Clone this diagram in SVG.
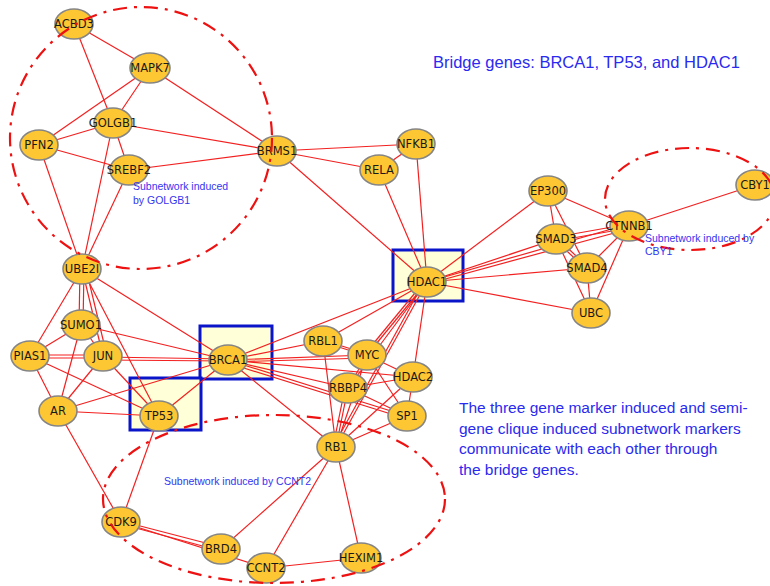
<svg xmlns="http://www.w3.org/2000/svg" width="770" height="586" viewBox="0 0 770 586">
<style>
.e{stroke:#f32020;stroke-width:1.2;fill:none}
.n ellipse{fill:#fdc633;stroke:#858585;stroke-width:1.6}
.n text{font-family:"DejaVu Sans",sans-serif;font-size:11.5px;fill:#1a1a1a;text-anchor:middle}
.box{fill:#ffffd8;stroke:#0a14c8;stroke-width:3}
.sub{fill:none;stroke:#ee1111;stroke-width:2.2;stroke-dasharray:14 7 3 7}
.lbl{font-family:"Liberation Sans",Arial,sans-serif;font-size:10.5px;fill:#3434f0}
.big{font-family:"Liberation Sans",Arial,sans-serif;fill:#2a2af0}
</style>
<rect width="770" height="586" fill="#fff"/>
<g id="boxes">
<rect class="box" x="393" y="250" width="70" height="51"/>
<rect class="box" x="200" y="326" width="72" height="53"/>
<rect class="box" x="130" y="378" width="71" height="52"/>
</g>
<g id="connectors">
<line class="e" x1="74" y1="24" x2="150" y2="68"/>
<line class="e" x1="74" y1="24" x2="113" y2="123"/>
<line class="e" x1="150" y1="68" x2="113" y2="123"/>
<line class="e" x1="150" y1="68" x2="39" y2="145"/>
<line class="e" x1="150" y1="68" x2="277" y2="151"/>
<line class="e" x1="113" y1="123" x2="39" y2="145"/>
<line class="e" x1="113" y1="123" x2="277" y2="151"/>
<line class="e" x1="113" y1="123" x2="129" y2="170"/>
<line class="e" x1="113" y1="123" x2="82" y2="269"/>
<line class="e" x1="39" y1="145" x2="129" y2="170"/>
<line class="e" x1="39" y1="145" x2="82" y2="269"/>
<line class="e" x1="129" y1="170" x2="277" y2="151"/>
<line class="e" x1="129" y1="170" x2="82" y2="269"/>
<line class="e" x1="277" y1="151" x2="416" y2="144"/>
<line class="e" x1="277" y1="151" x2="379" y2="170"/>
<line class="e" x1="277" y1="151" x2="427" y2="282"/>
<line class="e" x1="379" y1="170" x2="416" y2="144"/>
<line class="e" x1="379" y1="170" x2="427" y2="282"/>
<line class="e" x1="416" y1="144" x2="427" y2="282"/>
<line class="e" x1="427" y1="282" x2="548" y2="191"/>
<line class="e" x1="427" y1="282" x2="556" y2="239"/>
<line class="e" x1="427" y1="282" x2="629" y2="224"/>
<line class="e" x1="427" y1="284" x2="629" y2="229"/>
<line class="e" x1="427" y1="282" x2="587" y2="268"/>
<line class="e" x1="427" y1="282" x2="591" y2="313"/>
<line class="e" x1="548" y1="191" x2="556" y2="239"/>
<line class="e" x1="548" y1="191" x2="587" y2="268"/>
<line class="e" x1="548" y1="191" x2="629" y2="226"/>
<line class="e" x1="556" y1="237" x2="629" y2="224"/>
<line class="e" x1="556" y1="241" x2="629" y2="228"/>
<line class="e" x1="554" y1="239" x2="585" y2="268"/>
<line class="e" x1="558" y1="239" x2="589" y2="268"/>
<line class="e" x1="556" y1="239" x2="591" y2="313"/>
<line class="e" x1="587" y1="268" x2="591" y2="313"/>
<line class="e" x1="587" y1="268" x2="629" y2="226"/>
<line class="e" x1="629" y1="226" x2="591" y2="313"/>
<line class="e" x1="629" y1="226" x2="755" y2="185"/>
<line class="e" x1="80" y1="269" x2="79" y2="325"/>
<line class="e" x1="84" y1="269" x2="83" y2="325"/>
<line class="e" x1="82" y1="269" x2="30" y2="356"/>
<line class="e" x1="82" y1="269" x2="103" y2="356"/>
<line class="e" x1="86" y1="269" x2="107" y2="356"/>
<line class="e" x1="82" y1="269" x2="159" y2="416"/>
<line class="e" x1="82" y1="269" x2="228" y2="360"/>
<line class="e" x1="81" y1="325" x2="30" y2="356"/>
<line class="e" x1="81" y1="325" x2="103" y2="356"/>
<line class="e" x1="81" y1="325" x2="58" y2="411"/>
<line class="e" x1="81" y1="325" x2="228" y2="360"/>
<line class="e" x1="30" y1="355" x2="103" y2="355"/>
<line class="e" x1="30" y1="358" x2="103" y2="358"/>
<line class="e" x1="30" y1="356" x2="58" y2="411"/>
<line class="e" x1="30" y1="356" x2="159" y2="416"/>
<line class="e" x1="103" y1="357" x2="228" y2="359"/>
<line class="e" x1="103" y1="360" x2="228" y2="361"/>
<line class="e" x1="103" y1="356" x2="58" y2="411"/>
<line class="e" x1="103" y1="356" x2="159" y2="416"/>
<line class="e" x1="58" y1="411" x2="159" y2="416"/>
<line class="e" x1="58" y1="411" x2="228" y2="360"/>
<line class="e" x1="58" y1="411" x2="121" y2="522"/>
<line class="e" x1="159" y1="416" x2="228" y2="360"/>
<line class="e" x1="159" y1="416" x2="121" y2="522"/>
<line class="e" x1="228" y1="360" x2="427" y2="282"/>
<line class="e" x1="228" y1="360" x2="323" y2="341"/>
<line class="e" x1="228" y1="360" x2="367" y2="355"/>
<line class="e" x1="228" y1="362" x2="367" y2="358"/>
<line class="e" x1="228" y1="360" x2="413" y2="377"/>
<line class="e" x1="228" y1="360" x2="348" y2="388"/>
<line class="e" x1="228" y1="360" x2="407" y2="416"/>
<line class="e" x1="228" y1="363" x2="407" y2="419"/>
<line class="e" x1="228" y1="360" x2="336" y2="447"/>
<line class="e" x1="323" y1="341" x2="427" y2="282"/>
<line class="e" x1="323" y1="340" x2="367" y2="354"/>
<line class="e" x1="323" y1="342" x2="367" y2="356"/>
<line class="e" x1="323" y1="341" x2="336" y2="447"/>
<line class="e" x1="367" y1="355" x2="427" y2="282"/>
<line class="e" x1="364" y1="355" x2="424" y2="282"/>
<line class="e" x1="367" y1="355" x2="413" y2="377"/>
<line class="e" x1="367" y1="355" x2="348" y2="388"/>
<line class="e" x1="367" y1="355" x2="407" y2="416"/>
<line class="e" x1="367" y1="355" x2="336" y2="447"/>
<line class="e" x1="427" y1="282" x2="413" y2="377"/>
<line class="e" x1="427" y1="282" x2="348" y2="388"/>
<line class="e" x1="427" y1="282" x2="336" y2="447"/>
<line class="e" x1="424" y1="282" x2="333" y2="447"/>
<line class="e" x1="348" y1="388" x2="413" y2="377"/>
<line class="e" x1="348" y1="388" x2="407" y2="416"/>
<line class="e" x1="348" y1="388" x2="336" y2="447"/>
<line class="e" x1="345" y1="388" x2="333" y2="447"/>
<line class="e" x1="413" y1="377" x2="407" y2="416"/>
<line class="e" x1="413" y1="377" x2="336" y2="447"/>
<line class="e" x1="407" y1="416" x2="336" y2="447"/>
<line class="e" x1="336" y1="447" x2="221" y2="549"/>
<line class="e" x1="336" y1="447" x2="266" y2="568"/>
<line class="e" x1="336" y1="447" x2="361" y2="558"/>
<line class="e" x1="121" y1="521" x2="221" y2="547"/>
<line class="e" x1="121" y1="524" x2="221" y2="551"/>
<line class="e" x1="121" y1="522" x2="266" y2="568"/>
<line class="e" x1="266" y1="568" x2="361" y2="558"/>
</g>
<g id="ACBD3" class="n"><ellipse cx="74" cy="24" rx="19" ry="15"/><text x="74" y="28">ACBD3</text></g>
<g id="MAPK7" class="n"><ellipse cx="150" cy="68" rx="20" ry="15"/><text x="150" y="72">MAPK7</text></g>
<g id="GOLGB1" class="n"><ellipse cx="113" cy="123" rx="19" ry="15"/><text x="113" y="127">GOLGB1</text></g>
<g id="PFN2" class="n"><ellipse cx="39" cy="145" rx="19" ry="15"/><text x="39" y="149">PFN2</text></g>
<g id="SREBF2" class="n"><ellipse cx="129" cy="170" rx="19" ry="15"/><text x="129" y="174">SREBF2</text></g>
<g id="BRMS1" class="n"><ellipse cx="277" cy="151" rx="19" ry="15"/><text x="277" y="155">BRMS1</text></g>
<g id="NFKB1" class="n"><ellipse cx="416" cy="144" rx="19" ry="15"/><text x="416" y="148">NFKB1</text></g>
<g id="RELA" class="n"><ellipse cx="379" cy="170" rx="19" ry="15"/><text x="379" y="174">RELA</text></g>
<g id="HDAC1" class="n"><ellipse cx="427" cy="282" rx="19" ry="15"/><text x="427" y="286">HDAC1</text></g>
<g id="EP300" class="n"><ellipse cx="548" cy="191" rx="19" ry="15"/><text x="548" y="195">EP300</text></g>
<g id="SMAD3" class="n"><ellipse cx="556" cy="239" rx="19" ry="15"/><text x="556" y="243">SMAD3</text></g>
<g id="CTNNB1" class="n"><ellipse cx="629" cy="226" rx="19" ry="15"/><text x="629" y="230">CTNNB1</text></g>
<g id="SMAD4" class="n"><ellipse cx="587" cy="268" rx="19" ry="15"/><text x="587" y="272">SMAD4</text></g>
<g id="UBC" class="n"><ellipse cx="591" cy="313" rx="19" ry="15"/><text x="591" y="317">UBC</text></g>
<g id="CBY1" class="n"><ellipse cx="755" cy="185" rx="19" ry="15"/><text x="755" y="189">CBY1</text></g>
<g id="UBE2I" class="n"><ellipse cx="82" cy="269" rx="19" ry="15"/><text x="82" y="273">UBE2I</text></g>
<g id="SUMO1" class="n"><ellipse cx="81" cy="325" rx="19" ry="15"/><text x="81" y="329">SUMO1</text></g>
<g id="PIAS1" class="n"><ellipse cx="30" cy="356" rx="19" ry="15"/><text x="30" y="360">PIAS1</text></g>
<g id="JUN" class="n"><ellipse cx="103" cy="356" rx="19" ry="15"/><text x="103" y="360">JUN</text></g>
<g id="AR" class="n"><ellipse cx="58" cy="411" rx="19" ry="15"/><text x="58" y="415">AR</text></g>
<g id="TP53" class="n"><ellipse cx="159" cy="416" rx="19" ry="15"/><text x="159" y="420">TP53</text></g>
<g id="BRCA1" class="n"><ellipse cx="228" cy="360" rx="19" ry="15"/><text x="228" y="364">BRCA1</text></g>
<g id="RBL1" class="n"><ellipse cx="323" cy="341" rx="19" ry="15"/><text x="323" y="345">RBL1</text></g>
<g id="MYC" class="n"><ellipse cx="367" cy="355" rx="19" ry="15"/><text x="367" y="359">MYC</text></g>
<g id="HDAC2" class="n"><ellipse cx="413" cy="377" rx="19" ry="15"/><text x="413" y="381">HDAC2</text></g>
<g id="RBBP4" class="n"><ellipse cx="348" cy="388" rx="19" ry="15"/><text x="348" y="392">RBBP4</text></g>
<g id="SP1" class="n"><ellipse cx="407" cy="416" rx="19" ry="15"/><text x="407" y="420">SP1</text></g>
<g id="RB1" class="n"><ellipse cx="336" cy="447" rx="19" ry="15"/><text x="336" y="451">RB1</text></g>
<g id="CDK9" class="n"><ellipse cx="121" cy="522" rx="19" ry="15"/><text x="121" y="526">CDK9</text></g>
<g id="BRD4" class="n"><ellipse cx="221" cy="549" rx="19" ry="15"/><text x="221" y="553">BRD4</text></g>
<g id="CCNT2" class="n"><ellipse cx="266" cy="568" rx="19" ry="15"/><text x="266" y="572">CCNT2</text></g>
<g id="HEXIM1" class="n"><ellipse cx="361" cy="558" rx="20" ry="15"/><text x="361" y="562">HEXIM1</text></g>
<g id="subnetworks">
<ellipse class="sub" cx="141" cy="138" rx="131" ry="131"/>
<ellipse class="sub" cx="690" cy="199" rx="85" ry="51"/>
<ellipse class="sub" cx="274" cy="499" rx="171" ry="84"/>
</g>
<g id="labels">
<text class="lbl" x="133" y="190">Subnetwork induced</text>
<text class="lbl" x="133" y="204">by GOLGB1</text>
<text class="lbl" x="645" y="242">Subnetwork induced by</text>
<text class="lbl" x="645" y="255">CBY1</text>
<text class="lbl" x="164" y="485">Subnetwork induced by CCNT2</text>
<text class="big" x="433" y="68" font-size="16.5">Bridge genes: BRCA1, TP53, and HDAC1</text>
<text class="big" font-size="15.5"><tspan x="459" y="413">The three gene marker induced and semi-</tspan><tspan x="459" y="433.5">gene clique induced subnetwork markers</tspan><tspan x="459" y="454">communicate with each other through</tspan><tspan x="459" y="474.5">the bridge genes.</tspan></text>
</g>
</svg>
